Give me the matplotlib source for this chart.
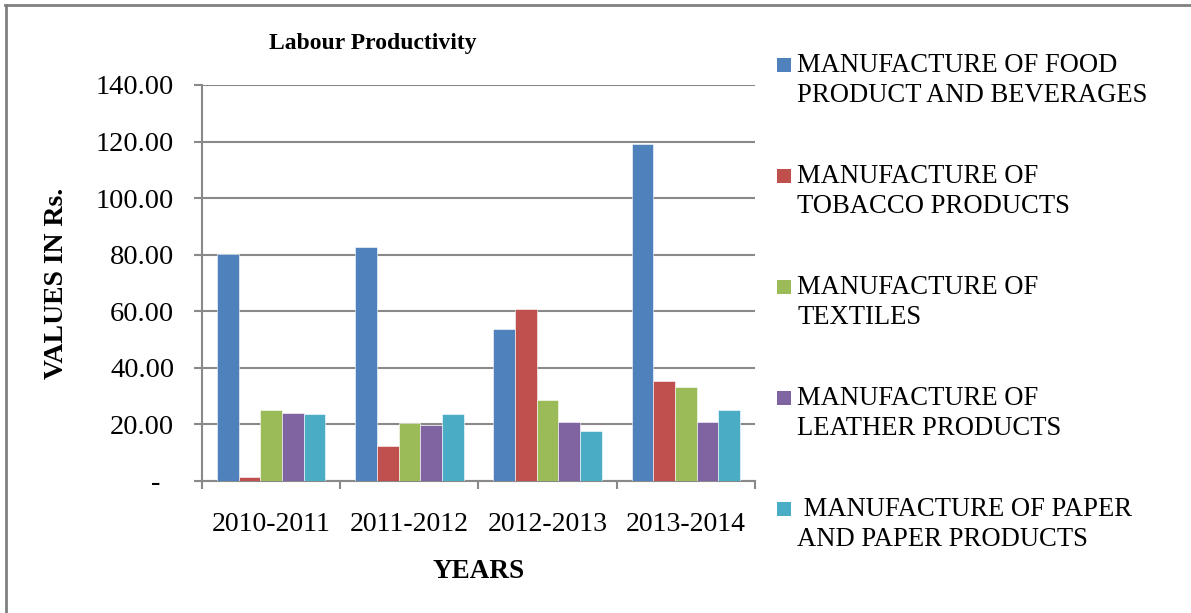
import matplotlib
matplotlib.use("Agg")
import matplotlib.pyplot as plt
import matplotlib.patches as mpatches
from matplotlib.lines import Line2D
import numpy as np

# chart data
years = ["2010-2011", "2011-2012", "2012-2013", "2013-2014"]
series_names = [
    "MANUFACTURE OF FOOD\nPRODUCT AND BEVERAGES",
    "MANUFACTURE OF\nTOBACCO PRODUCTS",
    "MANUFACTURE OF\nTEXTILES",
    "MANUFACTURE OF\nLEATHER PRODUCTS",
    " MANUFACTURE OF PAPER\nAND PAPER PRODUCTS",
]
food    = [80.2, 82.7, 53.6, 119.3]
tobacco = [1.3, 12.3, 60.7, 35.4]
textile = [25.1, 20.4, 28.7, 33.1]
leather = [24.1, 19.9, 20.8, 20.8]
paper   = [23.7, 23.6, 17.7, 25.1]
series_values = [food, tobacco, textile, leather, paper]
y_ticks = [0, 20, 40, 60, 80, 100, 120, 140]

colors = ["#4F81BD", "#C0504D", "#9BBB59", "#8064A2", "#4BACC6"]
grid_gray = "#898989"

plt.rcParams["font.family"] = ["Liberation Serif", "DejaVu Serif"]

W, H = 1191, 613
fig = plt.figure(figsize=(W / 100, H / 100), dpi=100)
ax = fig.add_axes([202 / W, 1 - 481 / H, (755 - 202) / W, (481 - 85) / H])

# grouped bars
x = np.arange(len(years))
bar_w = 0.157
for i, (vals, col) in enumerate(zip(series_values, colors)):
    offs = (i - 2) * bar_w
    ax.bar(x + offs, vals, width=bar_w, color=col, edgecolor="white",
           linewidth=0.4, zorder=3)

ax.set_xlim(-0.5, len(years) - 0.5)
ax.set_ylim(0, 140)

# y axis: accounting style labels, zero shown as a dash
ax.set_yticks(y_ticks)
ax.set_yticklabels(["-  " if v == 0 else f"{v:.2f}" for v in y_ticks],
                   fontsize=20.5)
ax.yaxis.grid(True, color=grid_gray, linewidth=1.5, zorder=0)
ax.tick_params(axis="y", length=6, width=1.5, color=grid_gray, pad=14)

# x axis: labels centred, tick marks between categories
ax.set_xticks(x)
ax.set_xticklabels(years, fontsize=20)
ax.set_xticks(np.arange(-0.5, len(years)), minor=True)
ax.tick_params(axis="x", which="major", length=0, pad=22)
ax.tick_params(axis="x", which="minor", length=6, width=1.5, color=grid_gray)

for side in ["top", "right"]:
    ax.spines[side].set_visible(False)
for side in ["left", "bottom"]:
    ax.spines[side].set_color(grid_gray)
    ax.spines[side].set_linewidth(1.5)

# titles
fig.text(373 / W, 1 - 43 / H, "Labour Productivity", ha="center",
         va="center", fontsize=17, fontweight="bold")
fig.text(57 / W, 1 - 283 / H, "VALUES IN Rs.", ha="center", va="center",
         rotation=90, fontsize=20, fontweight="bold")
fig.text(479 / W, 1 - 571 / H, "YEARS", ha="center", va="center",
         fontsize=19.5, fontweight="bold")

# legend drawn by hand so the swatch lines up with the first text line
for i, (name, col) in enumerate(zip(series_names, colors)):
    top = 53 + i * 111
    fig.patches.append(mpatches.Rectangle(
        (777 / W, 1 - (top + 19) / H), 14 / W, 14 / H,
        transform=fig.transFigure, facecolor=col, edgecolor="none"))
    fig.text(797 / W, 1 - top / H, name, ha="left", va="top", fontsize=19.2,
             linespacing=1.28)

# outer frame of the chart area (top and left edges visible)
fig.add_artist(Line2D([5 / W, 1], [1 - 4.5 / H, 1 - 4.5 / H],
                      transform=fig.transFigure, color="#808080", lw=2))
fig.add_artist(Line2D([6 / W, 6 / W], [0, 1 - 4.5 / H],
                      transform=fig.transFigure, color="#808080", lw=2))

fig.savefig("out.png", dpi=100)
